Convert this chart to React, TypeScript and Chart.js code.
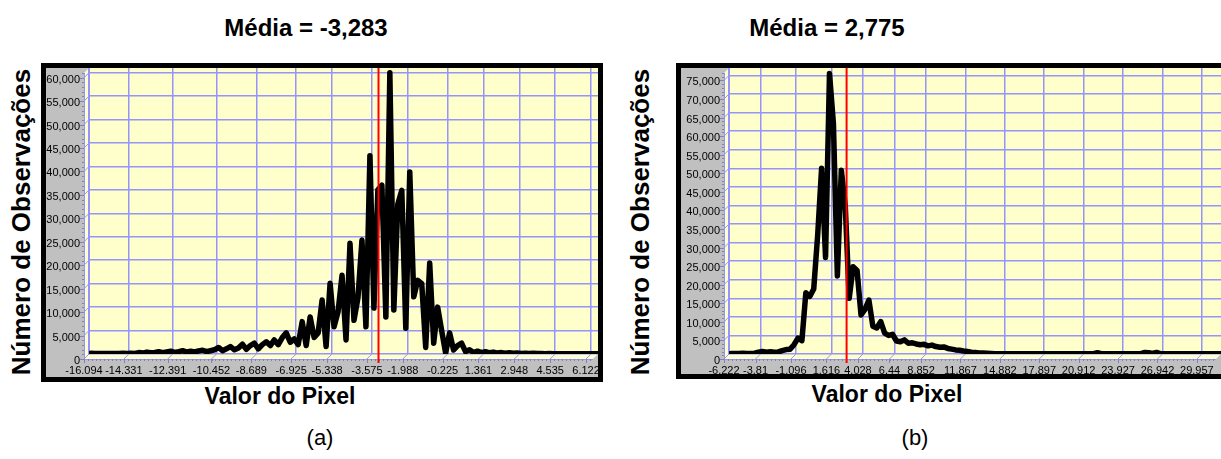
import React, { useEffect, useRef } from 'react';
import { Chart, registerables } from 'chart.js';

Chart.register(...registerables);

// ---------- Data: panel (a) ----------
const X0_A = -16.094;
const BIN_A = 0.17633;
const X_MAX_A = 6.43;
const Y_MAX_A = 61000;
const MEAN_A = -3.283;
const X_TICKS_A = [-16.094, -14.331, -12.391, -10.452, -8.689, -6.925, -5.338, -3.575, -1.988, -0.225, 1.361, 2.948, 4.535, 6.122];
const Y_TICKS_A = [0, 5000, 10000, 15000, 20000, 25000, 30000, 35000, 40000, 45000, 50000, 55000, 60000];
const COUNTS_A = [
  150, 100, 120, 100, 100, 120, 100, 100, 150, 100, 150, 120,
  300, 200, 400, 250, 350, 500, 300, 450, 600, 350, 500, 700, 400, 600, 450, 650, 800, 500, 700,
  900, 1400, 700, 1100, 1600, 900, 1300,
  2100, 1000, 1800, 2300, 1100, 2000,
  2600, 1800, 3000, 2000, 3500, 4500, 2500, 3200, 2000,
  6900, 1800, 7900, 3500, 4500, 11500, 1600, 15100, 5800, 9000, 16800, 3000, 23600, 7200, 12000, 24300, 5800, 42300,
  9800, 35000, 36000, 7900, 60000, 9400, 32000, 34900, 5500, 38800, 12200, 15700, 15000, 1400, 19400, 2300, 10000, 5000, 200, 4500, 850, 1800, 2300, 500, 900, 300,
  600, 300, 500, 250, 400, 200, 300, 150, 250, 150, 200, 100, 150, 100, 150, 100, 100, 50, 100, 50, 50, 50, 50, 50, 50, 50, 50, 50, 50, 50, 50,
];

// ---------- Data: panel (b) ----------
const X0_B = -6.222;
const BIN_B = 0.3015;
const X_MAX_B = 31.42;
const Y_MAX_B = 77000;
const MEAN_B = 2.775;
const X_TICKS_B = [-6.222, -3.81, -1.096, 1.616, 4.028, 6.44, 8.852, 11.867, 14.882, 17.897, 20.912, 23.927, 26.942, 29.957];
const Y_TICKS_B = [0, 5000, 10000, 15000, 20000, 25000, 30000, 35000, 40000, 45000, 50000, 55000, 60000, 65000, 70000, 75000];
const COUNTS_B = [
  150, 150, 150, 200, 150, 150, 200,
  500, 700, 500, 600, 450, 550,
  900, 1200, 1300, 2500, 4300, 3600,
  16500, 15500, 17500, 32000, 50000, 26000, 75500, 62000, 21000, 49500, 40000, 15000, 23500, 22500, 10500, 12000, 14500, 7500, 7000, 8700, 5600, 5000, 5300,
  3500, 3300, 3800, 2900, 3000, 2700, 2500, 2600, 2200, 2400, 2000, 1800, 1900, 1500, 1300, 1100, 1000, 800, 700, 500, 400, 300, 250, 200, 150,
  100, 100, 100, 100, 100, 100, 100, 100, 100, 100, 100, 100, 100, 100, 100, 100, 100, 100, 100, 100, 100, 100, 100, 100, 100, 100,
  350,
  100, 100, 100, 100, 100, 100, 100, 100, 100, 100, 100,
  400, 350, 150, 400,
  100, 100, 100, 100, 100, 100, 100, 100, 100, 100, 100, 100, 100, 100, 100, 100, 100,
];

const TITLE_A = 'Média = -3,283';
const TITLE_B = 'Média = 2,775';
const Y_TITLE = 'Número de Observações';
const X_TITLE = 'Valor do Pixel';

const YELLOW = '#ffffcc';
const GRID = '#9494fb';
const GRAY = '#c0c0c0';
const FONT = "'Liberation Sans', Arial, sans-serif";
const D = 5;

type PanelProps = {
  counts: number[];
  x0: number;
  bin: number;
  xMax: number;
  yMax: number;
  mean: number;
  xTicks: number[];
  yTicks: number[];
  width: number;
  height: number;
  yAxisWidth: number;
  xAxisHeight: number;
};

function line(ctx: CanvasRenderingContext2D, x1: number, y1: number, x2: number, y2: number) {
  ctx.beginPath();
  ctx.moveTo(x1, y1);
  ctx.lineTo(x2, y2);
  ctx.stroke();
}

function Panel(p: PanelProps) {
  const ref = useRef<HTMLCanvasElement | null>(null);
  useEffect(() => {
    if (!ref.current) return;
    const walls = {
      id: 'walls',
      beforeDraw(chart: any) {
        const ctx: CanvasRenderingContext2D = chart.ctx;
        const { left: L, right: R, top: T, bottom: B } = chart.chartArea;
        const xs = chart.scales.x;
        const ys = chart.scales.y;
        ctx.save();
        ctx.fillStyle = YELLOW;
        ctx.fillRect(L, T, R - L, B - T);
        ctx.beginPath();
        ctx.moveTo(L, T); ctx.lineTo(L, B); ctx.lineTo(L - D, B + D); ctx.lineTo(L - D, T + D);
        ctx.closePath(); ctx.fill();
        ctx.beginPath();
        ctx.moveTo(L, B); ctx.lineTo(R, B); ctx.lineTo(R - D, B + D); ctx.lineTo(L - D, B + D);
        ctx.closePath(); ctx.fill();
        ctx.strokeStyle = GRID;
        ctx.lineWidth = 1;
        p.yTicks.forEach((v) => {
          const y = ys.getPixelForValue(v);
          line(ctx, L, y, L - D, y + D);
        });
        p.xTicks.forEach((v) => {
          const x = xs.getPixelForValue(v);
          line(ctx, x, B, x - D, B + D);
        });
        line(ctx, L - D + 0.5, T + D, L - D + 0.5, B + D);
        line(ctx, L - D, B + D + 0.5, R - D, B + D + 0.5);
        line(ctx, L + 0.5, T, L + 0.5, B);
        // front tick marks
        ctx.strokeStyle = '#8080c0';
        p.yTicks.forEach((v) => {
          const y = Math.round(ys.getPixelForValue(v) + D) + 0.5;
          line(ctx, L - D - 4, y, L - D, y);
        });
        for (let v = 0; v <= p.yMax; v += 1000) {
          const y = Math.round(ys.getPixelForValue(v) + D) + 0.5;
          line(ctx, L - D - 2, y, L - D, y);
        }
        p.xTicks.forEach((v) => {
          const x = Math.round(xs.getPixelForValue(v) - D) + 0.5;
          line(ctx, x, B + D, x, B + D + 4);
        });
        for (let i = 0; i * p.bin + p.x0 <= p.xMax; i++) {
          const x = Math.round(xs.getPixelForValue(p.x0 + i * p.bin) - D) + 0.5;
          line(ctx, x, B + D, x, B + D + 2);
        }
        ctx.restore();
      },
      afterDatasetsDraw(chart: any) {
        const ctx: CanvasRenderingContext2D = chart.ctx;
        const { top: T, bottom: B } = chart.chartArea;
        const x = chart.scales.x.getPixelForValue(p.mean);
        ctx.save();
        ctx.strokeStyle = '#ff0000';
        ctx.lineWidth = 2;
        line(ctx, x, T, x, B + D + 4);
        ctx.restore();
      },
    };

    const chart = new Chart(ref.current, {
      type: 'line',
      data: {
        datasets: [
          {
            data: p.counts.map((c, i) => ({ x: p.x0 + (i + 0.5) * p.bin, y: c })),
            borderColor: '#000000',
            borderWidth: 5.5,
            pointRadius: 0,
            tension: 0,
            borderJoinStyle: 'round',
            borderCapStyle: 'round',
            fill: false,
          },
        ],
      },
      options: {
        responsive: false,
        maintainAspectRatio: false,
        animation: false,
        layout: { padding: 0 },
        plugins: { legend: { display: false }, tooltip: { enabled: false }, title: { display: false } },
        scales: {
          x: {
            type: 'linear',
            min: p.x0,
            max: p.xMax,
            afterBuildTicks: (a: any) => {
              a.ticks = p.xTicks.map((v) => ({ value: v }));
            },
            afterFit: (s: any) => {
              s.height = p.xAxisHeight;
              s.paddingLeft = 0; s.paddingRight = 0; s.paddingTop = 0; s.paddingBottom = 0;
            },
            grid: { color: GRID, lineWidth: 1.5, drawTicks: false },
            border: { display: false },
            ticks: {
              autoSkip: false,
              maxRotation: 0,
              padding: 10,
              labelOffset: -D,
              color: '#000000',
              font: { family: FONT, size: 11 },
              callback: (v: any) => String(v),
            },
          },
          y: {
            type: 'linear',
            min: 0,
            max: p.yMax,
            afterBuildTicks: (a: any) => {
              a.ticks = p.yTicks.map((v) => ({ value: v }));
            },
            afterFit: (s: any) => {
              s.width = p.yAxisWidth;
              s.paddingLeft = 0; s.paddingRight = 0; s.paddingTop = 0; s.paddingBottom = 0;
            },
            grid: { color: GRID, lineWidth: 1.5, drawTicks: false },
            border: { display: false },
            ticks: {
              autoSkip: false,
              padding: 9,
              labelOffset: 7,
              color: '#000000',
              font: { family: FONT, size: 11 },
              callback: (v: any) => Number(v).toLocaleString('en-US'),
            },
          },
        },
      },
      plugins: [walls],
    } as any);
    return () => chart.destroy();
  }, []);
  return (
    <canvas
      ref={ref}
      width={p.width}
      height={p.height}
      style={{ display: 'block', width: p.width, height: p.height, background: GRAY }}
    />
  );
}

const abs = (x: number, y: number, extra: React.CSSProperties = {}): React.CSSProperties => ({
  position: 'absolute',
  left: x,
  top: y,
  transform: 'translate(-50%, -50%)',
  whiteSpace: 'nowrap',
  fontFamily: FONT,
  color: '#000',
  ...extra,
});

export default function App() {
  return (
    <div
      style={{
        position: 'absolute',
        left: 0,
        top: 0,
        width: 1221,
        height: 459,
        overflow: 'hidden',
        background: '#fff',
        fontFamily: FONT,
      }}
    >
      <div style={abs(306, 28, { fontSize: 24, fontWeight: 'bold' })}>{TITLE_A}</div>
      <div style={abs(827, 28, { fontSize: 24, fontWeight: 'bold' })}>{TITLE_B}</div>

      <div style={abs(21, 222, { fontSize: 26, fontWeight: 'bold', transform: 'translate(-50%, -50%) rotate(-90deg)' })}>{Y_TITLE}</div>
      <div style={abs(640, 222, { fontSize: 26, fontWeight: 'bold', transform: 'translate(-50%, -50%) rotate(-90deg)' })}>{Y_TITLE}</div>

      <div style={{ position: 'absolute', left: 41, top: 63, border: '5px solid #000' }}>
        <Panel
          counts={COUNTS_A}
          x0={X0_A}
          bin={BIN_A}
          xMax={X_MAX_A}
          yMax={Y_MAX_A}
          mean={MEAN_A}
          xTicks={X_TICKS_A}
          yTicks={Y_TICKS_A}
          width={552}
          height={309}
          yAxisWidth={43}
          xAxisHeight={23}
        />
      </div>
      <div style={{ position: 'absolute', left: 676, top: 63, border: '5px solid #000' }}>
        <Panel
          counts={COUNTS_B}
          x0={X0_B}
          bin={BIN_B}
          xMax={X_MAX_B}
          yMax={Y_MAX_B}
          mean={MEAN_B}
          xTicks={X_TICKS_B}
          yTicks={Y_TICKS_B}
          width={540}
          height={306}
          yAxisWidth={48}
          xAxisHeight={20}
        />
      </div>

      <div style={abs(280, 396, { fontSize: 23, fontWeight: 'bold' })}>{X_TITLE}</div>
      <div style={abs(887, 394, { fontSize: 23, fontWeight: 'bold' })}>{X_TITLE}</div>

      <div style={abs(320, 438, { fontSize: 22 })}>(a)</div>
      <div style={abs(915, 438, { fontSize: 22 })}>(b)</div>
    </div>
  );
}
